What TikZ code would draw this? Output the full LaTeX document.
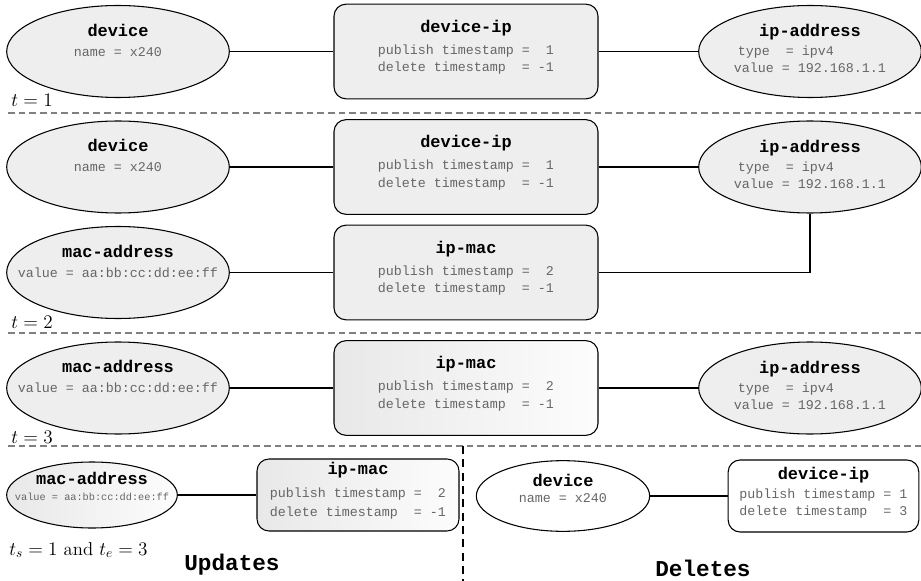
\documentclass[tikz,border=0pt]{standalone}
\usepackage{fontspec}
\setmonofont{Liberation Mono}
\usetikzlibrary{shapes.geometric,positioning}

\newcommand{\hdr}[1]{{\color{black}\fontsize{12.7}{15}\selectfont\bfseries #1}}

\begin{document}
\begin{tikzpicture}[x=0.75pt,y=-0.75pt,
    every node/.style={font=\ttfamily\fontsize{10}{13}\selectfont, text=black!60},
    entity/.style={ellipse, draw=black, line width=0.8pt, fill=gray!13, inner xsep=-20pt,
      inner ysep=-5pt, align=center, minimum width=167pt, minimum height=69pt},
    relation/.style={rectangle, rounded corners=9pt, draw=black, line width=0.8pt, fill=gray!13,
      inner sep=0pt, align=center, minimum width=198pt, minimum height=71pt},
    faded/.style={left color=gray!18, right color=gray!2},
    link/.style={draw=black, line width=0.8pt},
    timeline/.style={draw=gray, line width=1pt, dash pattern=on 5pt off 3pt},
    tlabel/.style={anchor=west, inner sep=0pt, text=black, font=\fontsize{14}{16}\selectfont},
    heading/.style={text=black, font=\ttfamily\bfseries\fontsize{17}{20}\selectfont}]
  \useasboundingbox (0,0) rectangle (921,581);

  % t = 1
  \node[entity] (dev1) at (118,51.5) {\hdr{device}\\[2pt]name~=~x240\\[4pt]\mbox{}};
  \node[relation] (dip1) at (466,51.5) {\hdr{device-ip}\\[3.5pt]publish~timestamp~=~~1\\delete~timestamp~~=~-1\\[-4.5pt]\mbox{}};
  \node[entity] (ip1) at (810,51.5) {\hdr{ip-address}\\[1pt]type~~=~ipv4~~~~~~~\\value~=~192.168.1.1\\[-9pt]\mbox{}};
  \draw[link] (dev1) -- (dip1);
  \draw[link] (dip1) -- (ip1);
  \node[tlabel] (t1) at (11,100) {$t=1$};
  \draw[timeline] (8,113) -- (921,113);

  % t = 2
  \node[entity] (dev2) at (118,167) {\hdr{device}\\[2pt]name~=~x240\\[4pt]\mbox{}};
  \node[relation] (dip2) at (466,167) {\hdr{device-ip}\\[3.5pt]publish~timestamp~=~~1\\delete~timestamp~~=~-1\\[-4.5pt]\mbox{}};
  \node[entity] (ip2) at (810,167) {\hdr{ip-address}\\[1pt]type~~=~ipv4~~~~~~~\\value~=~192.168.1.1\\[-9pt]\mbox{}};
  \node[entity] (mac2) at (118,272.5) {\hdr{mac-address}\\[2pt]value~=~aa:bb:cc:dd:ee:ff\\[4pt]\mbox{}};
  \node[relation] (ipm2) at (466,272.5) {\hdr{ip-mac}\\[3.5pt]publish~timestamp~=~~2\\delete~timestamp~~=~-1\\[-4.5pt]\mbox{}};
  \draw[link] (dev2) -- (dip2);
  \draw[link] (dip2) -- (ip2);
  \draw[link] (mac2) -- (ipm2);
  \draw[link] (ipm2.east) -| (ip2.south);
  \node[tlabel] (t2) at (11,322) {$t=2$};
  \draw[timeline] (8,333) -- (921,333);

  % t = 3
  \node[entity] (mac3) at (118,388) {\hdr{mac-address}\\[2pt]value~=~aa:bb:cc:dd:ee:ff\\[4pt]\mbox{}};
  \node[relation, faded] (ipm3) at (466,388) {\hdr{ip-mac}\\[3.5pt]publish~timestamp~=~~2\\delete~timestamp~~=~-1\\[-4.5pt]\mbox{}};
  \node[entity] (ip3) at (810,388) {\hdr{ip-address}\\[1pt]type~~=~ipv4~~~~~~~\\value~=~192.168.1.1\\[-9pt]\mbox{}};
  \draw[link] (mac3) -- (ipm3);
  \draw[link] (ipm3) -- (ip3);
  \node[tlabel] (t3) at (11,437) {$t=3$};
  \draw[timeline] (8,446) -- (921,446);

  % updates and deletes
  \draw[draw=black, line width=1.5pt, dash pattern=on 6pt off 4pt] (463,446) -- (463,581);

  \node[entity, faded, minimum width=128pt, minimum height=49.5pt] (mac4) at (92,495)
    {\hdr{mac-address}\\[-1pt]{\fontsize{7.7}{9}\selectfont value~=~aa:bb:cc:dd:ee:ff}\\\mbox{}};
  \node[relation, faded, minimum width=151.5pt, minimum height=54pt] (ipm4) at (358,495)
    {\hdr{ip-mac}\\[4.25pt]publish~timestamp~=~~2\\[1.25pt]delete~timestamp~~=~-1\\[-4.75pt]\mbox{}};
  \draw[link] (mac4) -- (ipm4);
  \node[tlabel] (ts) at (9,550) {$t_s=1$ and $t_e=3$};
  \node[heading] (upd) at (232,565) {Updates};

  \node[entity, fill=white, minimum width=130pt, minimum height=53pt] (dev5) at (563,496)
    {\hdr{device}\\[-1pt]name~=~x240\\[-1.75pt]\mbox{}};
  \node[relation, fill=white, minimum width=143pt, minimum height=54pt] (dip5) at (823.5,496)
    {\hdr{device-ip}\\[1.25pt]publish~timestamp~=~1\\[-0.25pt]delete~timestamp~~=~3\\[-6.25pt]\mbox{}};
  \draw[link] (dev5) -- (dip5);
  \node[heading] (del) at (703,568) {Deletes};
\end{tikzpicture}
\end{document}
